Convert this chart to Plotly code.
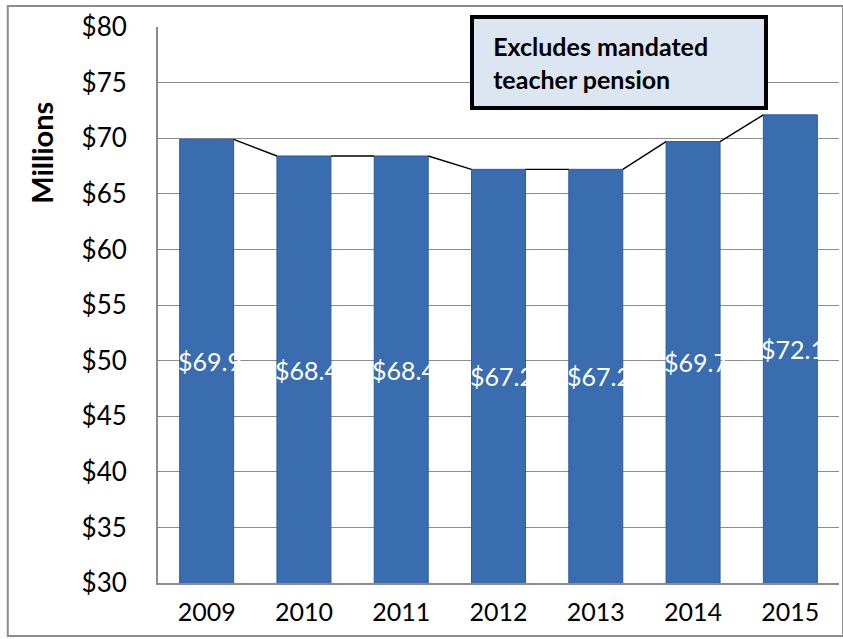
import plotly.graph_objects as go

years = ["2009", "2010", "2011", "2012", "2013", "2014", "2015"]
values = [69.9, 68.4, 68.4, 67.2, 67.2, 69.7, 72.1]
labels = ["$69.9", "$68.4", "$68.4", "$67.2", "$67.2", "$69.7", "$72.1"]
y_ticks = [30, 35, 40, 45, 50, 55, 60, 65, 70, 75, 80]
y_ticktext = ["$%d" % t for t in y_ticks]

BAR_W = 0.555
FONT = "Lato, 'Open Sans', sans-serif"
idx = list(range(len(years)))

# connector line between bar tops (edge to edge)
lx, ly = [], []
for i in range(len(values) - 1):
    lx += [i + BAR_W / 2, i + 1 - BAR_W / 2, None]
    ly += [values[i], values[i + 1], None]

fig = go.Figure()
fig.add_trace(go.Scatter(x=lx, y=ly, mode="lines",
                         line=dict(color="black", width=1.4),
                         hoverinfo="skip", showlegend=False))
fig.add_trace(go.Bar(x=idx, y=values, width=BAR_W,
                     marker=dict(color="#3A6CB0", line=dict(color="#2F5C98", width=1)),
                     showlegend=False))

for i, (v, t) in enumerate(zip(values, labels)):
    fig.add_annotation(x=i - BAR_W / 2, y=(30 + v) / 2, text=t, showarrow=False,
                       xanchor="left", yanchor="middle", xshift=-4,
                       font=dict(family=FONT, size=25, color="white"))

fig.add_annotation(xref="paper", yref="paper", x=0.4588, y=1.0216,
                   xanchor="left", yanchor="top", showarrow=False, align="left",
                   text="<b>&nbsp;&nbsp;Excludes mandated<br>&nbsp;&nbsp;teacher pension</b>",
                   font=dict(family=FONT, size=25, color="black"),
                   bgcolor="#DCE6F2", bordercolor="black", borderwidth=4,
                   borderpad=7, width=276, height=73)

fig.add_annotation(xref="paper", yref="paper", x=-0.1706, y=0.7734,
                   xanchor="center", yanchor="middle", showarrow=False,
                   textangle=-90, text="<b>Millions</b>",
                   font=dict(family=FONT, size=29, color="black"))

# outer chart border
fig.add_shape(type="rect", xref="paper", yref="paper",
              x0=-0.2206, x1=1.006, y0=-0.0953, y1=1.0378,
              line=dict(color="#8C8C8C", width=2), layer="below")

fig.update_layout(
    width=843, height=639,
    margin=dict(l=158, r=4, t=27, b=56),
    paper_bgcolor="white", plot_bgcolor="white",
    font=dict(family=FONT, size=25, color="black"),
    xaxis=dict(range=[-0.5, len(years) - 0.5], tickvals=idx, ticktext=years,
               showgrid=False, showline=True, linecolor="#8C8C8C", linewidth=2,
               ticks="", tickfont=dict(size=25), zeroline=False,
               ticklabelstandoff=6),
    yaxis=dict(range=[30, 80], tickvals=y_ticks, ticktext=y_ticktext,
               showgrid=True, gridcolor="#8C8C8C", gridwidth=1.3,
               showline=True, linecolor="#8C8C8C", linewidth=2,
               ticks="", tickfont=dict(size=26), zeroline=False,
               ticklabelstandoff=24),
)

fig.write_html("out.html")
